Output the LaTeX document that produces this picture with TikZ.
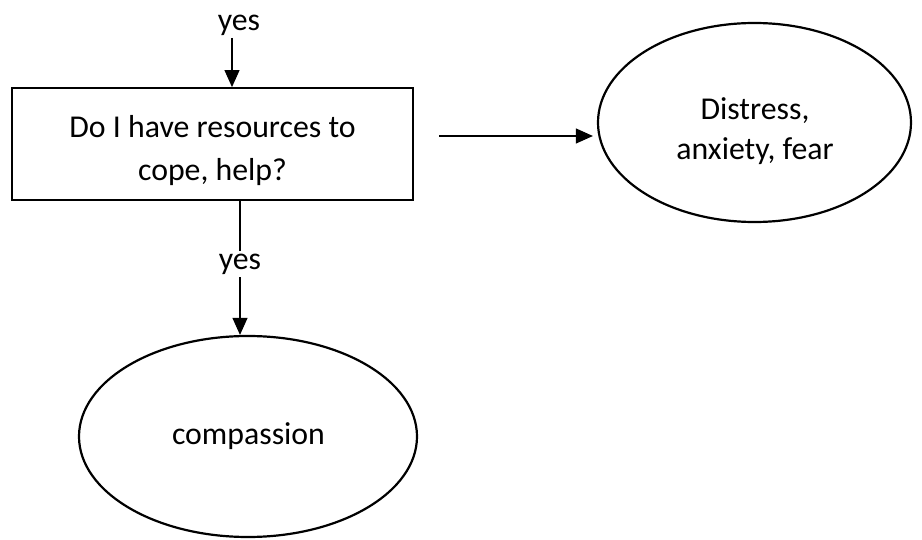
\documentclass[tikz,border=0pt]{standalone}
\usepackage{fontspec}
\setmainfont{Carlito}
\usetikzlibrary{arrows.meta,shapes.geometric}
\begin{document}
\begin{tikzpicture}[x=1pt,y=-1pt,
  txt/.style={inner sep=0pt, align=center, font=\fontsize{31.8}{43}\selectfont},
  boxshape/.style={draw, line width=1.8pt, rectangle, inner sep=0pt,
    minimum width=401pt, minimum height=112pt},
  oval/.style={draw, line width=2.2pt, ellipse, inner sep=0pt},
  arr/.style={line width=1.1pt, -{Triangle[width=15pt,length=17pt]}}]
\useasboundingbox (0,0) rectangle (922,540);

% decision box and its text
\node[boxshape] (q) at (212.5,144) {};
\node[txt] (qtxt) at (212.5,151) {Do I have resources to\\cope, help?};

% outcome on the right
\node[oval, minimum width=313pt, minimum height=199pt] (d) at (754.5,122.5) {};
\node[txt, font=\fontsize{31.8}{40}\selectfont] (dtxt) at (755,131) {Distress,\\anxiety, fear};

% outcome below
\node[oval, minimum width=338pt, minimum height=201pt] (c) at (248,436.5) {};
\node[txt] (ctxt) at (248.5,436) {compassion};

% incoming edge
\node[txt] (yes1) at (239,25) {yes};
\coordinate (in) at (232,38);
\draw[arr] (in) -- (in |- q.north);

% edge to the right outcome
\coordinate (h) at (439,136);
\draw[arr, shorten >=4pt] (h) -- (h -| d.west);

% edge down to compassion
\coordinate (s) at (240,201);
\draw[arr] (s) -- (s |- c.north)
  node[pos=0.47, fill=white, inner sep=3pt, font=\fontsize{31.8}{43}\selectfont] (yes2) {yes};
\end{tikzpicture}
\end{document}
